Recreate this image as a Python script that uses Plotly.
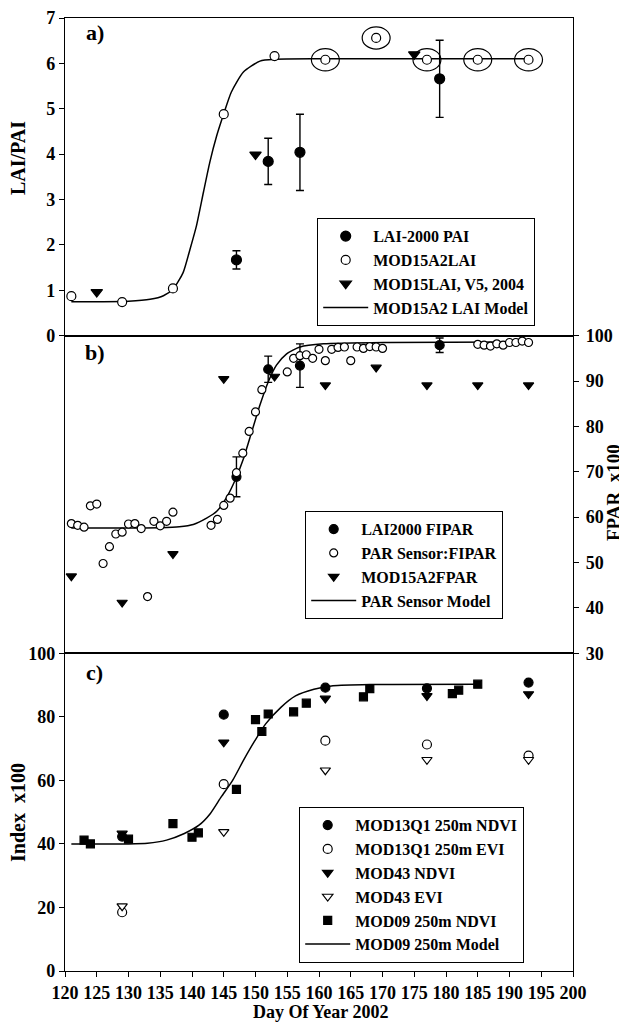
import plotly.graph_objects as go
from plotly.subplots import make_subplots

# ---------------- Panel a) LAI / PAI ----------------
lai_mod_days = [121, 129, 137, 145, 153, 161, 169, 177, 185, 193]
lai_mod_vals = [0.87, 0.74, 1.04, 4.88, 6.16, 6.08, 6.56, 6.08, 6.08, 6.08]
lai_circled_days = [161, 169, 177, 185, 193]

pai_days = [147, 152, 157, 179]
pai_vals = [1.67, 3.84, 4.04, 5.66]
pai_err = [0.20, 0.51, 0.84, 0.85]

v5_days = [125, 150, 175]
v5_vals = [0.96, 3.99, 6.20]

lai_model_days = [121, 125, 130, 133.4, 135.5, 137.1, 138.6, 139.7, 140.7, 141.8,
                  142.8, 143.9, 145.0, 146.2, 148.1, 150.7, 153, 160, 170, 180, 193]
lai_model_vals = [0.75, 0.75, 0.76, 0.80, 0.88, 1.04, 1.39, 1.91, 2.42, 3.16,
                  3.82, 4.41, 4.89, 5.37, 5.81, 6.05, 6.09, 6.10, 6.10, 6.10, 6.10]
lai_ticks = [0, 1, 2, 3, 4, 5, 6, 7]

# ---------------- Panel b) FPAR ----------------
par_days = [121, 122, 123, 124, 125, 126, 127, 128, 129, 130, 131, 132, 133, 134, 135, 136, 137,
            143, 144, 145, 146, 147, 148, 149, 150, 151,
            155, 156, 157, 158, 159, 160, 161, 162, 163, 164, 165, 166, 167, 168, 169, 170,
            185, 186, 187, 188, 189, 190, 191, 192, 193]
par_vals = [58.6, 58.2, 57.8, 62.5, 62.9, 49.8, 53.5, 56.3, 56.7, 58.5, 58.6, 57.5, 42.5, 59.1, 58.1, 59.1, 61.1,
            58.2, 59.5, 62.6, 64.2, 69.8, 74.1, 78.9, 83.2, 88.1,
            92.0, 95.0, 95.6, 95.8, 95.0, 97.0, 94.5, 97.0, 97.4, 97.5, 94.5, 97.5, 97.2, 97.6, 97.5, 97.2,
            98.1, 97.9, 97.7, 98.2, 97.9, 98.5, 98.5, 98.8, 98.5]

fipar_days = [147, 152, 157, 179]
fipar_vals = [68.9, 92.6, 93.4, 97.9]
fipar_err = [4.4, 2.9, 4.8, 1.6]

fpar15_days = [121, 129, 137, 145, 153, 161, 169, 177, 185, 193]
fpar15_vals = [47.0, 41.2, 51.9, 90.5, 91.0, 89.1, 93.0, 89.1, 89.1, 89.1]

par_model_days = [121, 125, 130, 135, 138, 140.2, 142.3, 143.9, 145.5, 146.8, 148.1,
                  149.4, 150.7, 152.0, 153.3, 154.9, 157.0, 160.7, 171, 193]
par_model_vals = [57.6, 57.6, 57.6, 57.7, 57.9, 58.4, 59.8, 61.3, 64.5, 68.2, 72.9,
                  78.8, 84.7, 89.8, 93.5, 96.0, 97.5, 98.2, 98.5, 98.6]
fpar_ticks = [30, 40, 50, 60, 70, 80, 90, 100]

# ---------------- Panel c) Vegetation indices ----------------
vi_days = [129, 145, 161, 177, 193]
ndvi13_vals = [42.3, 80.7, 89.2, 89.0, 90.8]
evi13_vals = [18.5, 58.8, 72.5, 71.3, 67.8]
ndvi43_vals = [43.3, 72.0, 85.8, 86.6, 87.2]
evi43_vals = [20.4, 43.8, 63.2, 66.5, 66.5]

mod09_days = [123, 124, 130, 137, 140, 141, 147, 150, 151, 152, 156, 158, 167, 168, 181, 182, 185]
mod09_vals = [41.2, 40.0, 41.5, 46.4, 42.1, 43.5, 57.2, 79.1, 75.4, 80.9, 81.6, 84.3, 86.3, 88.9, 87.3, 88.4, 90.3]

mod09_model_days = [121, 130, 133, 136, 138.8, 141.1, 142.9, 144.6, 146.4, 148.1, 149.9,
                    151.6, 154.0, 156.3, 159.2, 162.2, 168, 185]
mod09_model_vals = [40.0, 40.0, 40.2, 41.2, 43.3, 45.9, 49.6, 54.8, 60.0, 66.3, 72.5,
                    77.8, 83.0, 86.6, 88.7, 89.8, 90.2, 90.3]
index_ticks = [0, 20, 40, 60, 80, 100]

x_ticks = list(range(120, 201, 5))

# ---------------- Figure ----------------
FONT = "Liberation Serif, Times New Roman, serif"
fig = make_subplots(rows=3, cols=1, shared_xaxes=True, vertical_spacing=0.0)

BLACK = "black"


def add_pts(row, x, y, name, symbol, size, legend, filled=True, err=None):
    marker = dict(symbol=symbol, size=size, color=BLACK if filled else "white",
                  line=dict(color=BLACK, width=1.2))
    tr = go.Scatter(x=x, y=y, mode="markers", name=name, marker=marker, legend=legend)
    if err is not None:
        tr.error_y = dict(type="data", array=err, visible=True, color=BLACK, thickness=1.4, width=4)
    fig.add_trace(tr, row=row, col=1)


def add_line(row, x, y, name, legend):
    fig.add_trace(go.Scatter(x=x, y=y, mode="lines", name=name, legend=legend,
                             line=dict(color=BLACK, width=1.5, shape="spline", smoothing=0.6)),
                  row=row, col=1)


# Panel a
add_line(1, lai_model_days, lai_model_vals, "MOD15A2 LAI Model", "legend")
add_pts(1, pai_days, pai_vals, "LAI-2000 PAI", "circle", 10, "legend", True, pai_err)
add_pts(1, lai_mod_days, lai_mod_vals, "MOD15A2LAI", "circle", 9, "legend", False)
add_pts(1, v5_days, v5_vals, "MOD15LAI, V5, 2004", "triangle-down", 10, "legend", True)

# Panel b
add_line(2, par_model_days, par_model_vals, "PAR Sensor Model", "legend2")
add_pts(2, fipar_days, fipar_vals, "LAI2000 FIPAR", "circle", 9, "legend2", True, fipar_err)
add_pts(2, par_days, par_vals, "PAR Sensor:FIPAR", "circle", 8, "legend2", False)
add_pts(2, fpar15_days, fpar15_vals, "MOD15A2FPAR", "triangle-down", 9, "legend2", True)

# Panel c
add_line(3, mod09_model_days, mod09_model_vals, "MOD09 250m Model", "legend3")
add_pts(3, vi_days, ndvi13_vals, "MOD13Q1 250m NDVI", "circle", 9, "legend3", True)
add_pts(3, vi_days, evi13_vals, "MOD13Q1 250m EVI", "circle", 9, "legend3", False)
add_pts(3, vi_days, ndvi43_vals, "MOD43 NDVI", "triangle-down", 9, "legend3", True)
add_pts(3, vi_days, evi43_vals, "MOD43 EVI", "triangle-down", 9, "legend3", False)
add_pts(3, mod09_days, mod09_vals, "MOD09 250m NDVI", "square", 8, "legend3", True)

# rings around selected MOD15A2 LAI points (derived from the data)
shapes = []
for d in lai_circled_days:
    v = lai_mod_vals[lai_mod_days.index(d)]
    shapes.append(dict(type="circle", xref="x", yref="y", x0=d - 2.2, x1=d + 2.2,
                       y0=v - 0.245, y1=v + 0.245, line=dict(color=BLACK, width=1.2)))

# legend order: markers first, line last
for tr in fig.data:
    tr.legendrank = 2000 if tr.mode == "lines" else 1000

axis_common = dict(linecolor=BLACK, linewidth=1.4, mirror=True, showgrid=False, zeroline=False,
                   tickcolor=BLACK, tickwidth=1.3, ticklen=5, automargin=False,
                   ticklabeloverflow="allow",
                   tickfont=dict(family=FONT, size=18, color=BLACK, weight="bold"))

fig.update_xaxes(range=[120, 200], **axis_common)
fig.update_xaxes(ticks="", showticklabels=False, row=1, col=1)
fig.update_xaxes(ticks="", showticklabels=False, row=2, col=1)
fig.update_xaxes(ticks="outside", tickvals=x_ticks, showticklabels=True, row=3, col=1)

fig.update_yaxes(range=[0, 7], tickvals=lai_ticks, ticks="outside", row=1, col=1, **axis_common)
fig.update_yaxes(range=[30, 100], tickvals=fpar_ticks, ticks="outside", side="right",
                 ticklabelstandoff=3, row=2, col=1, **axis_common)
fig.update_yaxes(range=[0, 100], tickvals=index_ticks, ticks="outside", row=3, col=1, **axis_common)

# The page body has an 8px margin, so the figure starts at (8, 8) in the window.
OFF = 8
W, H = 627 - OFF, 1022 - OFF
PL, PR, PT, PB = 65, 573, 18, 971          # plot area in window pixels
ML, MR, MT, MB = PL - OFF, W - (PR - OFF), PT - OFF, H - (PB - OFF)


def py(p):
    return (PB - p) / (PB - PT)


def px(p):
    return (p - PL) / (PR - PL)


legend_common = dict(bordercolor=BLACK, borderwidth=1.2, bgcolor="white",
                     font=dict(family=FONT, size=16, color=BLACK, weight="bold"),
                     xanchor="left", yanchor="top", tracegroupgap=0, itemwidth=45)


def ann(text, x, y, size, angle=0):
    return dict(text=text, xref="paper", yref="paper", x=px(x), y=py(y), textangle=angle,
                xanchor="center", yanchor="middle", showarrow=False,
                font=dict(family=FONT, size=size, color=BLACK, weight="bold"))


annotations = [
    ann("a)", 95, 32, 22), ann("b)", 95, 352, 22), ann("c)", 94, 672, 22),
    ann("LAI/PAI", 18, 158, 20, -90),
    ann("Index  x100", 18, 813, 20, -90),
    ann("FPAR  x100", 613, 493, 19, -90),
    ann("Day Of Year 2002", 320, 1012, 18),
]

fig.update_layout(
    width=W, height=H,
    margin=dict(l=ML, r=MR, t=MT, b=MB, pad=0, autoexpand=False),
    paper_bgcolor="white", plot_bgcolor="white",
    font=dict(family=FONT, size=17, color=BLACK, weight="bold"),
    showlegend=True,
    legend=dict(x=px(317), y=py(218), **legend_common),
    legend2=dict(x=px(305), y=py(511), **legend_common),
    legend3=dict(x=px(299), y=py(807), **legend_common),
    shapes=shapes,
    annotations=annotations,
)

fig.write_html("out.html")
